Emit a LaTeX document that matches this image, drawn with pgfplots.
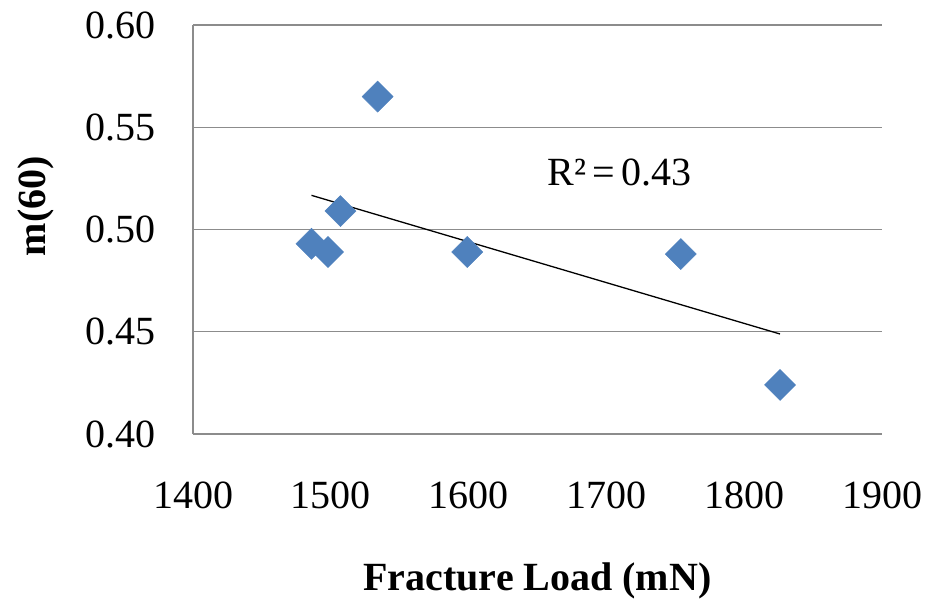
\documentclass[border=0pt]{standalone}
\usepackage{pgfplots}
\pgfplotsset{compat=1.18}
\usepackage{fontspec}
\setmainfont{Liberation Serif}
\definecolor{exblue}{HTML}{4F81BD}
\definecolor{exgrid}{HTML}{8C8C8C}

\begin{document}
\begin{tikzpicture}
\useasboundingbox (0,0) rectangle (928pt,598pt);
\begin{axis}[
    at={(193pt,164pt)}, anchor=south west,
    scale only axis,
    width=689pt, height=409pt,
    xmin=1400, xmax=1900,
    ymin=0.4, ymax=0.6,
    xtick={1400,1500,1600,1700,1800,1900},
    ytick={0.40,0.45,0.50,0.55,0.60},
    axis x line*=bottom,
    axis y line*=left,
    axis line style={draw=exgrid, line width=1.3pt, -},
    major tick length=0pt,
    ymajorgrids,
    grid style={draw=exgrid, line width=1.3pt},
    /pgf/number format/assume math mode=true,
    xticklabel style={/pgf/number format/1000 sep={}, anchor=north, inner sep=0pt, yshift=-48pt},
    yticklabel style={/pgf/number format/.cd, fixed, fixed zerofill, precision=2, /tikz/.cd,
        anchor=east, inner sep=0pt, xshift=-37pt},
    tick label style={font=\fontsize{40}{46}\selectfont},
    clip=false,
]
% measurements
\addplot[only marks, mark=square*, mark size=11pt,
    mark options={rotate=45, fill=exblue, draw=exblue}]
    coordinates {
    (1486,0.493) (1498,0.489) (1507,0.509) (1534,0.565)
    (1599,0.489) (1754,0.488) (1826,0.424)
};
% linear trend
\addplot[black, line width=1.3pt, mark=none] coordinates {
    (1486,0.5167) (1826,0.4489)
};
\node[anchor=base west, inner sep=0pt, font=\fontsize{40}{46}\selectfont]
    at (axis cs:1657,0.5213) {R²\,=\,0.43};
\node[anchor=base, inner sep=0pt, font=\fontsize{40}{46}\selectfont\bfseries]
    at ([yshift=-156pt]rel axis cs:0.5,0) {Fracture Load (mN)};
\node[rotate=90, anchor=center, inner sep=0pt, font=\fontsize{40}{46}\selectfont\bfseries]
    at ([xshift=-157pt]rel axis cs:0,0.557) {m(60)};
\end{axis}
\end{tikzpicture}
\end{document}
